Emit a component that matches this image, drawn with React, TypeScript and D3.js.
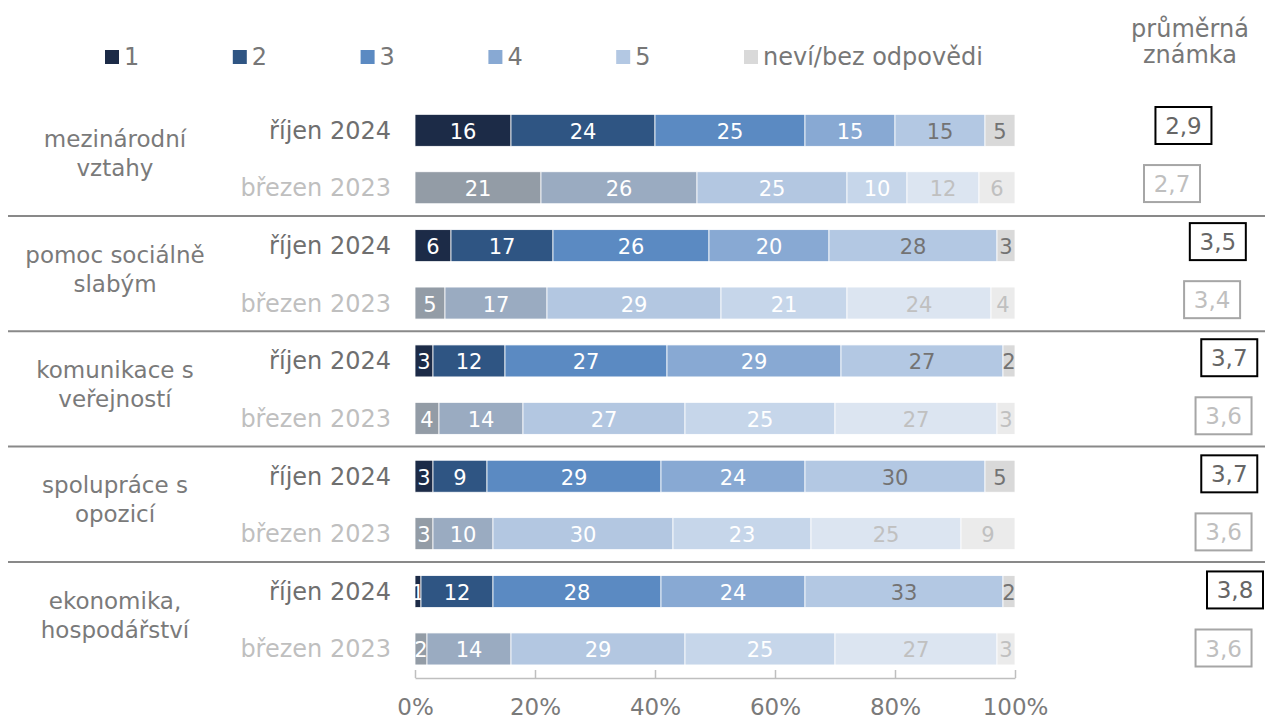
import React, { useEffect, useRef } from 'react';
import * as d3 from 'd3';

const categories = ['mezinárodní vztahy', 'pomoc sociálně slabým', 'komunikace s veřejností', 'spolupráce s opozicí', 'ekonomika, hospodářství'];
const categoryLines = [
  ['mezinárodní', 'vztahy'],
  ['pomoc sociálně', 'slabým'],
  ['komunikace s', 'veřejností'],
  ['spolupráce s', 'opozicí'],
  ['ekonomika,', 'hospodářství'],
];
const periods = ['říjen 2024', 'březen 2023'];
const grades = ['1', '2', '3', '4', '5', 'neví/bez odpovědi'];

// shares in %, order = grades
const oct2024 = [
  [16, 24, 25, 15, 15, 5],
  [6, 17, 26, 20, 28, 3],
  [3, 12, 27, 29, 27, 2],
  [3, 9, 29, 24, 30, 5],
  [1, 12, 28, 24, 33, 2],
];
const mar2023 = [
  [21, 26, 25, 10, 12, 6],
  [5, 17, 29, 21, 24, 4],
  [4, 14, 27, 25, 27, 3],
  [3, 10, 30, 23, 25, 9],
  [2, 14, 29, 25, 27, 3],
];
const meanOct2024 = [2.9, 3.5, 3.7, 3.7, 3.8];
const meanMar2023 = [2.7, 3.4, 3.6, 3.6, 3.6];
const xTicks = [0, 20, 40, 60, 80, 100];

const colorsOct = ['#1c2b47', '#2f5583', '#5b8ac2', '#88a9d3', '#b3c8e3', '#d9d9d9'];
const colorsMar = ['#939ca6', '#9aabc1', '#b3c7e1', '#c6d6ea', '#dce5f1', '#ebebeb'];
const FONT = '"DejaVu Sans", Verdana, sans-serif';

export default function App() {
  const svgRef = useRef<SVGSVGElement>(null);

  useEffect(() => {
    if (!svgRef.current) return;
    const svg = d3.select(svgRef.current);
    svg.selectAll('*').remove();
    svg.style('font-family', FONT);

    const x = d3.scaleLinear().domain([0, 100]).range([415, 1015]);
    const y0 = d3.scaleBand<string>().domain(categories).range([100.7, 677.2]);
    const bw = y0.bandwidth();
    const y1 = d3.scalePoint<string>().domain(periods).range([0.257 * bw, 0.755 * bw]);
    const barH = 32;

    const rows = categories.flatMap((cat, ci) =>
      periods.map((p, pi) => {
        const vals = pi === 0 ? oct2024[ci] : mar2023[ci];
        const obj: any = { cat, period: p, pi, ci, mean: pi === 0 ? meanOct2024[ci] : meanMar2023[ci] };
        grades.forEach((g, k) => (obj[g] = vals[k]));
        return obj;
      })
    );
    const rowY = (r: any) => (y0(r.cat) || 0) + (y1(r.period) || 0);

    // separators between groups
    svg.append('g')
      .selectAll('line')
      .data(categories.slice(1))
      .enter()
      .append('line')
      .attr('x1', 8)
      .attr('x2', 1265)
      .attr('y1', d => y0(d) || 0)
      .attr('y2', d => y0(d) || 0)
      .attr('stroke', '#898989')
      .attr('stroke-width', 2);

    // category labels
    const catG = svg.append('g')
      .selectAll('text')
      .data(categories)
      .enter()
      .append('text')
      .attr('text-anchor', 'middle')
      .style('font-size', '23px')
      .style('fill', '#7a7a7a');
    catG.each(function (d, i) {
      const cy = (y0(d) || 0) + bw / 2;
      categoryLines[i].forEach((line, li) => {
        d3.select(this)
          .append('tspan')
          .attr('x', 115)
          .attr('y', cy + (li === 0 ? -11 : 18))
          .text(line);
      });
    });

    // period labels
    svg.append('g')
      .selectAll('text')
      .data(rows)
      .enter()
      .append('text')
      .attr('x', 391)
      .attr('y', d => rowY(d) + 8.5)
      .attr('text-anchor', 'end')
      .style('font-size', '24px')
      .style('fill', d => (d.pi === 0 ? '#6f6f6f' : '#bfbfbf'))
      .text(d => d.period);

    // stacked bars
    const series = d3.stack<any>().keys(grades)(rows);
    series.forEach((s, k) => {
      const g = svg.append('g');
      g.selectAll('rect')
        .data(s)
        .enter()
        .append('rect')
        .attr('x', d => x(d[0]))
        .attr('y', d => rowY(d.data) - barH / 2)
        .attr('width', d => x(d[1]) - x(d[0]))
        .attr('height', barH)
        .attr('fill', d => (d.data.pi === 0 ? colorsOct[k] : colorsMar[k]))
        .attr('stroke', '#fff')
        .attr('stroke-width', 0.8);
      g.selectAll('text')
        .data(s)
        .enter()
        .append('text')
        .attr('x', d => (x(d[0]) + x(d[1])) / 2)
        .attr('y', d => rowY(d.data) + 8.5)
        .attr('text-anchor', 'middle')
        .style('font-size', '21px')
        .style('fill', d => (k < 4 ? '#fff' : d.data.pi === 0 ? '#737373' : '#c0c0c0'))
        .text(d => d[1] - d[0]);
    });

    // x axis
    const axis = svg.append('g')
      .attr('transform', 'translate(0,678)')
      .call(d3.axisBottom(x).tickValues(xTicks).tickSizeInner(-8).tickSizeOuter(0).tickPadding(21).tickFormat(d => `${d}%`));
    axis.select('.domain').attr('stroke', '#bfbfbf').attr('stroke-width', 1.5);
    axis.selectAll('.tick line').attr('stroke', '#bfbfbf').attr('stroke-width', 1.5);
    axis.selectAll('.tick text')
      .style('font-size', '23px')
      .style('font-family', FONT)
      .style('fill', '#7a7a7a');

    // legend
    const legX = d3.scalePoint<string>().domain(grades).range([105, 744]);
    const leg = svg.append('g')
      .selectAll('g')
      .data(grades)
      .enter()
      .append('g')
      .attr('transform', d => `translate(${legX(d)},0)`);
    leg.append('rect')
      .attr('y', 50)
      .attr('width', 14)
      .attr('height', 14)
      .attr('fill', (d, i) => colorsOct[i]);
    leg.append('text')
      .attr('x', 19)
      .attr('y', 65)
      .style('font-size', '24px')
      .style('fill', '#777')
      .text(d => d);

    // mean grade column
    svg.append('text')
      .attr('text-anchor', 'middle')
      .style('font-size', '24px')
      .style('fill', '#777')
      .selectAll('tspan')
      .data(['průměrná', 'známka'])
      .enter()
      .append('tspan')
      .attr('x', 1190)
      .attr('y', (d, i) => 37 + i * 26)
      .text(d => d);

    const xm = d3.scaleLinear().domain([2.7, 3.8]).range([1172, 1235]);
    const ym = d3.scaleLinear().domain([0, rows.length - 1]).range([125.5, 648]);
    const boxes = svg.append('g')
      .selectAll('g')
      .data(rows)
      .enter()
      .append('g')
      .attr('transform', (d, i) => `translate(${xm(d.mean)},${ym(i)})`);
    boxes.append('rect')
      .attr('x', -28)
      .attr('y', -18.5)
      .attr('width', 56)
      .attr('height', 37)
      .attr('fill', '#fff')
      .attr('stroke', d => (d.pi === 0 ? '#000' : '#a6a6a6'))
      .attr('stroke-width', 2);
    boxes.append('text')
      .attr('y', 8.5)
      .attr('text-anchor', 'middle')
      .style('font-size', '23px')
      .style('fill', d => (d.pi === 0 ? '#666' : '#bfbfbf'))
      .text(d => d3.format('.1f')(d.mean).replace('.', ','));
  }, []);

  return (
    <svg
      ref={svgRef}
      width={1265}
      height={720}
      style={{ position: 'absolute', left: 0, top: 0, background: '#fff' }}
    />
  );
}
